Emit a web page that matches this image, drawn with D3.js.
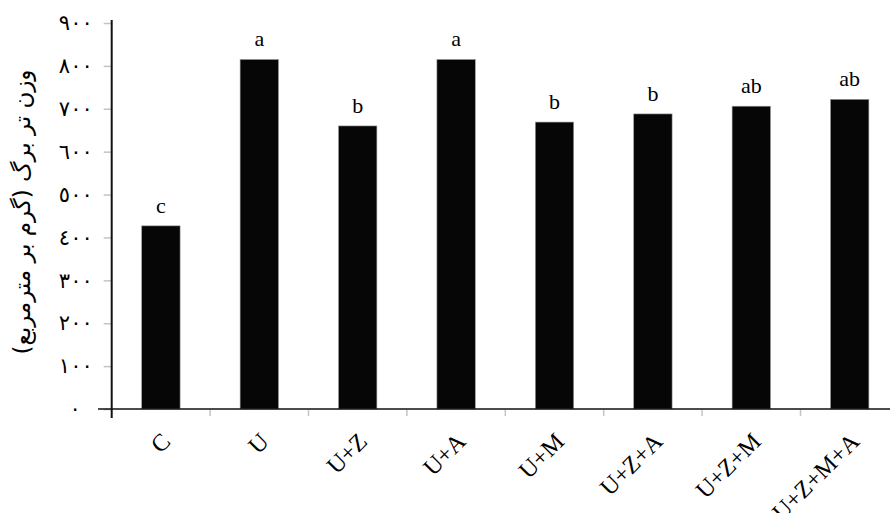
<!DOCTYPE html>
<html>
<head>
<meta charset="utf-8">
<script src="https://cdn.jsdelivr.net/npm/d3@7"></script>
<style>
  body { margin: 0; background: #fff; }
  svg { display: block; }
  .serif { font-family: "Liberation Serif", "Times New Roman", serif; }
  .arabic { font-family: "DejaVu Sans", sans-serif; }
</style>
</head>
<body>
<div id="chart"></div>
<script>
// Chart data
const categories = ["C", "U", "U+Z", "U+A", "U+M", "U+Z+A", "U+Z+M", "U+Z+M+A"];
const values = [427, 815, 660, 815, 669, 688, 706, 722];
const letters = ["c", "a", "b", "a", "b", "b", "ab", "ab"];
const yTicks = [0, 100, 200, 300, 400, 500, 600, 700, 800, 900];
const yTickLabels = ["٠", "١٠٠", "٢٠٠", "٣٠٠", "٤٠٠", "٥٠٠", "٦٠٠", "٧٠٠", "٨٠٠", "٩٠٠"];
const yTitle = "وزن تر برگ (گرم بر مترمربع)";

// Layout constants
const width = 890;
const height = 513;
const axisX = 111.7;
const baseY = 409;
const topY = 23;

let svg = d3.select("#chart")
    .append("svg")
    .attr("width", width)
    .attr("height", height);

let x = d3.scaleBand()
    .domain(categories)
    .range([axisX, axisX + 8 * 98.4])
    .paddingInner(0.61)
    .paddingOuter(0.305);

let y = d3.scaleLinear()
    .domain([0, 900])
    .range([baseY, topY]);

// Y axis ticks and labels
let yAxis = svg.append("g")
    .attr("transform", `translate(${axisX},0)`)
    .call(d3.axisLeft(y)
        .tickValues(yTicks)
        .tickSize(8)
        .tickPadding(11)
        .tickFormat((d, i) => yTickLabels[i]));

yAxis.attr("font-family", null).attr("font-size", null);
yAxis.select(".domain").remove();
yAxis.selectAll(".tick line")
    .attr("stroke", "#c4c4c4")
    .attr("stroke-width", 1.5);
yAxis.selectAll(".tick text")
    .attr("class", "arabic")
    .style("font-size", "21px")
    .attr("fill", "#000")
    .attr("dx", (d) => d === 0 ? -12 : 0);

// Bars
svg.selectAll("rect.bar")
    .data(values)
    .enter()
    .append("rect")
    .attr("class", "bar")
    .attr("x", (d, i) => x(categories[i]))
    .attr("y", (d) => y(d))
    .attr("width", x.bandwidth())
    .attr("height", (d) => baseY - y(d))
    .attr("fill", "#060606")
    .attr("stroke", "#9a9a9a")
    .attr("stroke-width", 0.6);

// Group letters above bars
svg.selectAll("text.letter")
    .data(letters)
    .enter()
    .append("text")
    .attr("class", "letter serif")
    .attr("x", (d, i) => x(categories[i]) + x.bandwidth() / 2)
    .attr("y", (d, i) => y(values[i]) - 13)
    .attr("text-anchor", "middle")
    .style("font-size", "22px")
    .text((d) => d);

// X axis ticks between categories
svg.selectAll("line.xtick")
    .data(categories.slice(0, -1))
    .enter()
    .append("line")
    .attr("class", "xtick")
    .attr("x1", (d) => x(d) + x.bandwidth() + (x.step() - x.bandwidth()) / 2)
    .attr("x2", (d) => x(d) + x.bandwidth() + (x.step() - x.bandwidth()) / 2)
    .attr("y1", baseY + 1)
    .attr("y2", baseY + 7)
    .attr("stroke", "#c4c4c4")
    .attr("stroke-width", 1.5);

// Axis lines
svg.append("line")
    .attr("x1", 98).attr("x2", width)
    .attr("y1", baseY).attr("y2", baseY)
    .attr("stroke", "#111").attr("stroke-width", 1.6);

svg.append("line")
    .attr("x1", axisX).attr("x2", axisX)
    .attr("y1", 20).attr("y2", 418)
    .attr("stroke", "#111").attr("stroke-width", 2);

// Rotated category labels
svg.selectAll("text.cat")
    .data(categories)
    .enter()
    .append("text")
    .attr("class", "cat serif")
    .attr("transform", (d) => `translate(${x(d) + x.bandwidth() / 2 + 11},${baseY + 34}) rotate(-45)`)
    .attr("text-anchor", "end")
    .style("font-size", "24px")
    .text((d) => d);

// Y axis title
svg.append("text")
    .attr("class", "arabic")
    .attr("transform", `translate(30,212) rotate(-90)`)
    .attr("text-anchor", "middle")
    .attr("direction", "rtl")
    .style("font-size", "23px")
    .text(yTitle);
</script>
</body>
</html>
